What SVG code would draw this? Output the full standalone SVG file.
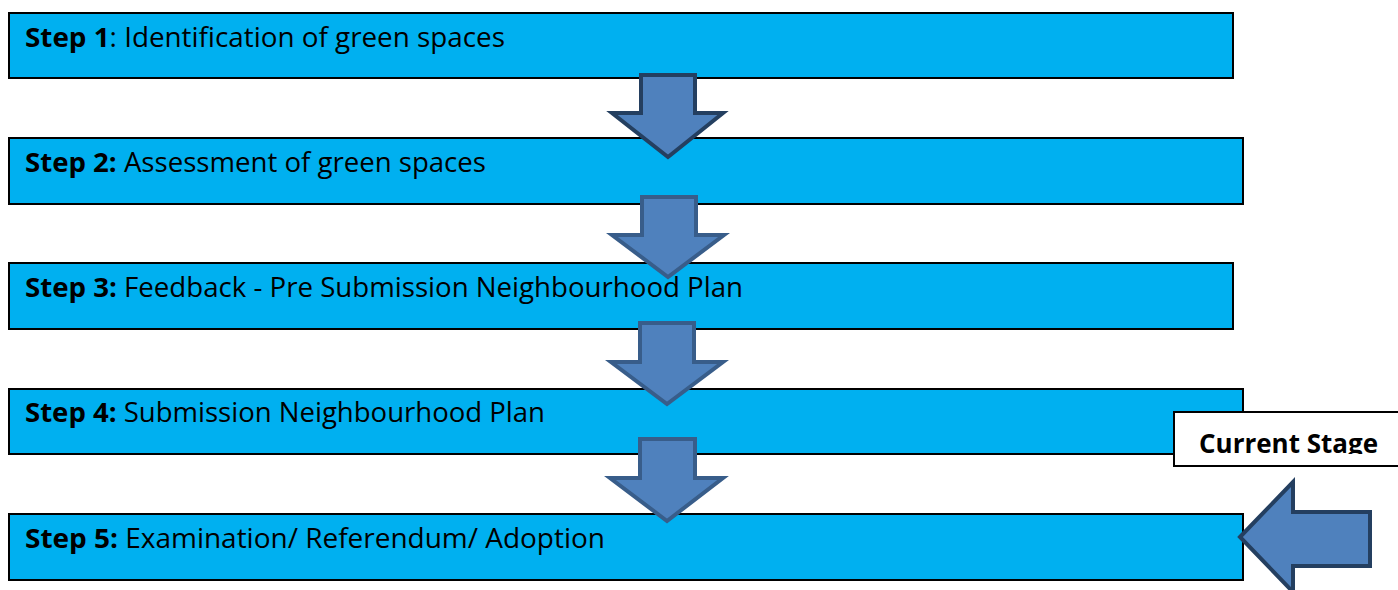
<svg xmlns="http://www.w3.org/2000/svg" width="1398" height="590" viewBox="0 0 1398 590">
<style>
.box{fill:#00B0F0;stroke:#000;stroke-width:2}
.t{font-family:"Open Sans","Liberation Sans",sans-serif;font-size:27px;fill:#000}
.b{font-weight:bold}
.arr{fill:#4F81BD;stroke:#385D8A;stroke-width:4;stroke-linejoin:miter}
.arrd{fill:#4F81BD;stroke:#243F60;stroke-width:4}
</style>
<defs>
<clipPath id="cs"><rect x="1174" y="412" width="230" height="42"/></clipPath>
</defs>
<g id="step1"><rect class="box" x="9" y="13" width="1224" height="65"/><text class="t" x="25" y="47" textLength="480" lengthAdjust="spacingAndGlyphs"><tspan class="b">Step 1</tspan>: Identification of green spaces</text></g>
<g id="step2"><rect class="box" x="9" y="138" width="1234" height="66"/><text class="t" x="25" y="172" textLength="461" lengthAdjust="spacingAndGlyphs"><tspan class="b">Step 2:</tspan> Assessment of green spaces</text></g>
<g id="step3"><rect class="box" x="9" y="263" width="1224" height="66"/><text class="t" x="25" y="297" textLength="718" lengthAdjust="spacingAndGlyphs"><tspan class="b">Step 3:</tspan> Feedback - Pre Submission Neighbourhood Plan</text></g>
<g id="step4"><rect class="box" x="9" y="389" width="1234" height="65"/><text class="t" x="25" y="422" textLength="520" lengthAdjust="spacingAndGlyphs"><tspan class="b">Step 4:</tspan> Submission Neighbourhood Plan</text></g>
<g id="step5"><rect class="box" x="9" y="514" width="1234" height="66"/><text class="t" x="25" y="548" textLength="580" lengthAdjust="spacingAndGlyphs"><tspan class="b">Step 5:</tspan> Examination/ Referendum/ Adoption</text></g>
<g id="current-stage"><rect x="1174" y="412" width="240" height="54" fill="#fff" stroke="#000" stroke-width="2"/><text class="t b" x="1199" y="453" textLength="179" lengthAdjust="spacingAndGlyphs" clip-path="url(#cs)">Current Stage</text></g>
<g id="connectors">
<polygon class="arrd" points="641,75 695,75 695,113 723,113 668,157 612,113 641,113"/>
<polygon class="arr" points="642,197 696,197 696,235 724,235 668,277 612,235 642,235"/>
<polygon class="arr" points="640,323 694,323 694,362 723,362 667,404 611,362 640,362"/>
<polygon class="arr" points="640,439 695,439 695,478 723,478 667,521 610,478 640,478"/>
<polygon class="arrd" points="1240,537 1293,482 1293,512 1370,512 1370,566 1293,566 1293,592"/>
</g>
</svg>
